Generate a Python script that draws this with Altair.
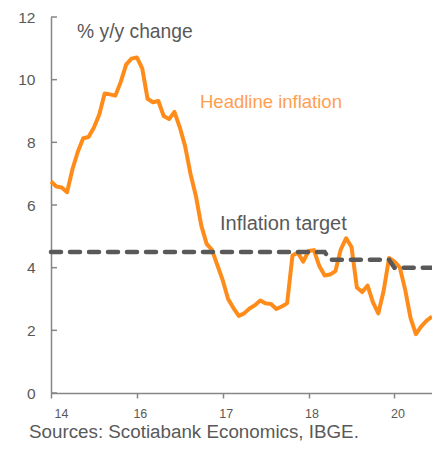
import altair as alt
import pandas as pd

# Brazil IPCA headline inflation, % y/y, Sep 2014 .. Aug 2020 (monthly)
headline = [6.75, 6.59, 6.56, 6.41,
            7.14, 7.70, 8.13, 8.17, 8.47, 8.89, 9.56, 9.53, 9.49, 9.93, 10.48, 10.67,
            10.71, 10.36, 9.39, 9.28, 9.32, 8.84, 8.74, 8.97, 8.48, 7.87, 6.99, 6.29,
            5.35, 4.76, 4.57, 4.08, 3.60, 3.00, 2.71, 2.46, 2.54, 2.70, 2.80, 2.95,
            2.86, 2.84, 2.68, 2.76, 2.86, 4.39, 4.48, 4.19, 4.53, 4.56, 4.05, 3.75,
            3.78, 3.89, 4.58, 4.94, 4.66, 3.37, 3.22, 3.43, 2.89, 2.54, 3.27, 4.31,
            4.19, 4.01, 3.30, 2.40, 1.88, 2.13, 2.31, 2.44]
# Inflation target (%): 4.5 through 2018, 4.25 in 2019, 4.0 in 2020
target = [4.5] * 52 + [4.25] * 12 + [4.0] * 8

x_tick_pos = [0, 16, 32, 48, 64]
x_tick_labels = ["14", "16", "17", "18", "20"]
y_ticks = [0, 2, 4, 6, 8, 10, 12]

ann_units = ["% y/y change"]
ann_headline = ["Headline inflation"]
ann_target = ["Inflation target"]
ann_source = ["Sources: Scotiabank Economics, IBGE."]

df = pd.DataFrame({"i": list(range(len(headline))), "headline": headline, "target": target})

label_expr = ""
for p, l in zip(x_tick_pos, x_tick_labels):
    label_expr += f"datum.value == {p} ? '{l}' : "
label_expr += "''"

FONT = "Liberation Sans"
GRAY = "#595959"
AXIS = "#868686"
ORANGE = "#FF8C1A"

x_enc = alt.X(
    "i:Q",
    scale=alt.Scale(domain=[0, 71], nice=False, zero=False),
    axis=alt.Axis(values=x_tick_pos, labelExpr=label_expr, title=None, grid=False,
                  domainColor=AXIS, domainWidth=1.5, tickColor=AXIS, tickWidth=1.5,
                  tickSize=5, labelFont=FONT, labelFontSize=12.5, labelColor=GRAY,
                  labelPadding=9, labelOffset=3),
)
y_scale = alt.Scale(domain=[0, 12], nice=False)
y_axis = alt.Axis(values=y_ticks, title=None, grid=False, ticks=False,
                  domainColor=AXIS, domainWidth=1.5, labelFont=FONT,
                  labelFontSize=15.5, labelColor=GRAY, labelPadding=16)

base = alt.Chart(df)

yticks = alt.Chart(pd.DataFrame({"v": y_ticks})).mark_rule(color=AXIS, strokeWidth=1.5).encode(
    y=alt.Y("v:Q", scale=y_scale, axis=y_axis),
    x=alt.value(0), x2=alt.value(6),
)

headline_line = base.mark_line(color=ORANGE, strokeWidth=4, strokeJoin="round").encode(
    x=x_enc,
    y=alt.Y("headline:Q", scale=y_scale, axis=y_axis),
)

target_line = base.mark_line(color=GRAY, strokeWidth=4.5, strokeDash=[10, 9],
                             strokeCap="round").encode(
    x=x_enc,
    y=alt.Y("target:Q", scale=y_scale, axis=y_axis),
)


def text_layer(texts, px, py, size, color):
    return alt.Chart(pd.DataFrame({"t": texts})).mark_text(
        align="left", baseline="alphabetic", font=FONT, fontSize=size, color=color
    ).encode(text="t:N", x=alt.value(px), y=alt.value(py))


t_units = text_layer(ann_units, 26, 21, 19.3, GRAY)
t_head = text_layer(ann_headline, 149, 91, 18.5, "#FF9E4F")
t_target = text_layer(ann_target, 169, 213, 20, GRAY)
t_source = text_layer(ann_source, -22, 421, 18.8, GRAY)

chart = alt.layer(
    yticks, headline_line, target_line, t_units, t_head, t_target, t_source
).resolve_axis(y="shared").properties(
    width=381, height=376,
    padding={"left": 43, "top": 9, "right": 0, "bottom": 48},
    autosize=alt.AutoSizeParams(type="none"),
    background="white",
).configure_view(stroke=None)

chart.save("out.html", embed_options={"renderer": "svg", "actions": False})
